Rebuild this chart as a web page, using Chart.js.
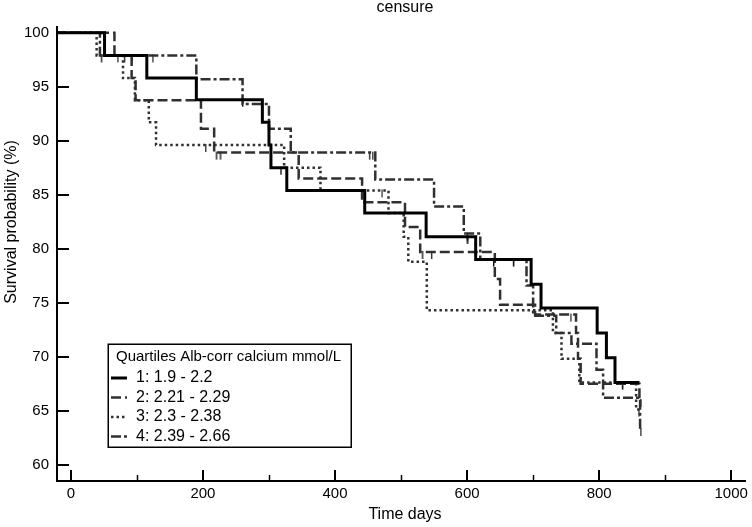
<!DOCTYPE html>
<html><head><meta charset="utf-8">
<script src="https://cdn.jsdelivr.net/npm/chart.js@4.4.1/dist/chart.umd.min.js"></script>
<style>html,body{margin:0;padding:0;background:#fff;}#wrap{width:752px;height:527px;position:relative;}</style>
</head><body><div id="wrap"><canvas id="c" width="752" height="527"></canvas></div>
<script>
const chartTitle = 'censure';
const xTitle = 'Time days';
const yTitle = 'Survival probability (%)';
const legendTitle = 'Quartiles Alb-corr calcium mmol/L';
const seriesNames = ['1: 1.9 - 2.2', '2: 2.21 - 2.29', '3: 2.3 - 2.38', '4: 2.39 - 2.66'];
const xTickLabels = [0, 200, 400, 600, 800, 1000];
const xMinorTicks = [100, 300, 500, 700, 900];
const yTickLabels = [60, 65, 70, 75, 80, 85, 90, 95, 100];
const X_MIN = -21, X_MAX = 1021, Y_MIN = 58.49, Y_MAX = 100.53;

// Kaplan-Meier step curves: event times (days) and survival (%) after each event
const q1Times = [51, 115, 190, 290, 300, 303, 327, 445, 538, 613, 697, 712, 797, 811, 824];
const q1Surv  = [97.9, 95.8, 93.8, 91.7, 89.6, 87.5, 85.4, 83.3, 81.1, 79.0, 76.7, 74.5, 72.2, 69.9, 67.6];
const q1End = 861;
const q1Censor = [92, 260, 318, 600, 640, 670, 835];

const q2Times = [66, 92, 98, 197, 217, 345, 441, 506, 529, 642, 650, 703, 765, 768, 772, 861];
const q2Surv  = [97.9, 95.8, 93.75, 91.1, 88.9, 86.5, 84.3, 82.0, 79.7, 77.2, 74.8, 73.9, 72.2, 69.8, 67.5, 66.0];
const q2End = 863;
const q2Censor = [71, 81, 220, 226, 532, 546, 757, 863];

const q3Times = [39, 79, 97, 118, 129, 323, 378, 481, 504, 511, 539, 730, 743, 770, 856];
const q3Surv  = [97.9, 95.8, 93.75, 91.7, 89.6, 87.5, 85.4, 83.3, 81.1, 78.8, 74.3, 72.2, 69.8, 67.6, 65.1];
const q3End = 862;
const q3Censor = [46, 204, 471, 860];

const q4Times = [44, 190, 260, 300, 333, 461, 550, 595, 620, 690, 700, 735, 758, 796, 806, 862];
const q4Surv  = [97.9, 95.7, 93.4, 91.1, 88.9, 86.4, 83.9, 81.4, 79.0, 76.6, 73.8, 72.2, 71.2, 68.8, 66.2, 63.3];
const q4End = 864;
const q4Censor = [124, 452, 457, 600, 863];

const FONT = '"Liberation Sans", Arial, Helvetica, sans-serif';

function stepPoints(times, surv, end) {
  const pts = [{x: X_MIN, y: 100}];
  times.forEach((t, i) => pts.push({x: t, y: surv[i]}));
  pts.push({x: end, y: surv[surv.length - 1]});
  return pts;
}
function survAt(times, surv, t) {
  let s = 100;
  for (let i = 0; i < times.length; i++) if (times[i] <= t) s = surv[i];
  return s;
}
function censorPoints(times, surv, cens) {
  return cens.map(t => ({x: t, y: survAt(times, surv, t)}));
}
// censor tick glyph: short vertical stroke hanging below the curve
function tickGlyph(color) {
  const cv = document.createElement('canvas');
  cv.width = 3; cv.height = 16;
  const g = cv.getContext('2d');
  g.fillStyle = color;
  g.fillRect(1, 7, 1.4, 8);
  return cv;
}

const styles = [
  {color: '#000000', width: 3, dash: []},
  {color: '#303030', width: 2.5, dash: [10, 4]},
  {color: '#303030', width: 2.5, dash: [2.5, 3]},
  {color: '#303030', width: 2.5, dash: [10, 3, 3, 3]}
];
const curves = [
  [q1Times, q1Surv, q1End, q1Censor],
  [q2Times, q2Surv, q2End, q2Censor],
  [q3Times, q3Surv, q3End, q3Censor],
  [q4Times, q4Surv, q4End, q4Censor]
];

const datasets = [];
curves.forEach((c, i) => {
  datasets.push({
    label: seriesNames[i],
    data: stepPoints(c[0], c[1], c[2]),
    stepped: true,
    borderColor: styles[i].color,
    borderWidth: styles[i].width,
    borderDash: styles[i].dash,
    borderCapStyle: 'butt',
    borderJoinStyle: 'miter',
    pointRadius: 0,
    fill: false,
    order: i
  });
});
curves.forEach((c, i) => {
  datasets.push({
    label: 'censor ' + (i + 1),
    data: censorPoints(c[0], c[1], c[3]),
    showLine: false,
    pointStyle: tickGlyph(styles[i].color),
    pointRadius: 4,
    order: 10 + i
  });
});

const decorPlugin = {
  id: 'decor',
  afterDraw(chart) {
    const ctx = chart.ctx, a = chart.chartArea;
    const xs = chart.scales.x, ys = chart.scales.y;
    ctx.save();
    ctx.strokeStyle = '#000';
    ctx.lineCap = 'butt';
    // inward tick marks
    ctx.lineWidth = 2;
    xTickLabels.forEach(v => {
      const px = Math.round(xs.getPixelForValue(v));
      ctx.beginPath(); ctx.moveTo(px, a.bottom); ctx.lineTo(px, a.bottom - 11); ctx.stroke();
    });
    yTickLabels.forEach(v => {
      const py = Math.round(ys.getPixelForValue(v));
      ctx.beginPath(); ctx.moveTo(a.left, py); ctx.lineTo(a.left + 12, py); ctx.stroke();
    });
    ctx.lineWidth = 1.5;
    xMinorTicks.forEach(v => {
      const px = Math.round(xs.getPixelForValue(v)) + 0.5;
      ctx.beginPath(); ctx.moveTo(px, a.bottom); ctx.lineTo(px, a.bottom - 6); ctx.stroke();
    });
    ctx.fillStyle = '#000';
    // title
    ctx.font = '16px ' + FONT;
    ctx.textAlign = 'center';
    ctx.textBaseline = 'alphabetic';
    ctx.fillText(chartTitle, 405, 12);
    // axis titles
    ctx.textBaseline = 'middle';
    ctx.fillText(xTitle, 405, 515);
    ctx.save();
    ctx.translate(12, 222);
    ctx.rotate(-Math.PI / 2);
    ctx.fillText(yTitle, 0, 0);
    ctx.restore();
    // legend box
    const L = a.left + 51, T = a.bottom - 137, R = a.left + 294, B = a.bottom - 34;
    ctx.fillStyle = '#fff';
    ctx.fillRect(L, T, R - L, B - T);
    ctx.lineWidth = 1.5;
    ctx.strokeRect(L + 0.25, T + 0.25, R - L, B - T);
    ctx.fillStyle = '#000';
    ctx.textAlign = 'left';
    ctx.textBaseline = 'middle';
    ctx.font = '15px ' + FONT;
    ctx.fillText(legendTitle, L + 8, T + 13);
    ctx.font = '16px ' + FONT;
    for (let i = 0; i < 4; i++) {
      const ds = chart.data.datasets[i];
      const yy = T + 34 + i * 19.5;
      ctx.save();
      ctx.strokeStyle = ds.borderColor;
      ctx.lineWidth = ds.borderWidth;
      ctx.setLineDash(ds.borderDash);
      ctx.beginPath(); ctx.moveTo(L + 3, yy); ctx.lineTo(L + 19, yy); ctx.stroke();
      ctx.restore();
      ctx.fillText(seriesNames[i], L + 28, yy);
    }
    ctx.restore();
  }
};

new Chart(document.getElementById('c'), {
  type: 'line',
  data: {datasets},
  options: {
    responsive: false,
    animation: false,
    devicePixelRatio: 1,
    layout: {padding: {left: 0, right: 4, top: 27, bottom: 0}},
    plugins: {legend: {display: false}, title: {display: false}, tooltip: {enabled: false}},
    scales: {
      x: {
        type: 'linear', min: X_MIN, max: X_MAX,
        grid: {display: false, drawTicks: false},
        border: {display: true, color: '#000', width: 2},
        afterBuildTicks: s => { s.ticks = xTickLabels.map(v => ({value: v})); },
        afterFit: s => { s.height = 46; },
        ticks: {color: '#000', font: {family: FONT, size: 15}, padding: 4, maxRotation: 0, autoSkip: false,
                callback: v => String(v)},
        title: {display: false}
      },
      y: {
        type: 'linear', min: Y_MIN, max: Y_MAX,
        grid: {display: false, drawTicks: false},
        border: {display: true, color: '#000', width: 2},
        afterBuildTicks: s => { s.ticks = yTickLabels.map(v => ({value: v})); },
        afterFit: s => { s.width = 57; },
        ticks: {color: '#000', font: {family: FONT, size: 15}, padding: 8, autoSkip: false,
                callback: v => String(v)},
        title: {display: false}
      }
    }
  },
  plugins: [decorPlugin]
});
</script></body></html>
